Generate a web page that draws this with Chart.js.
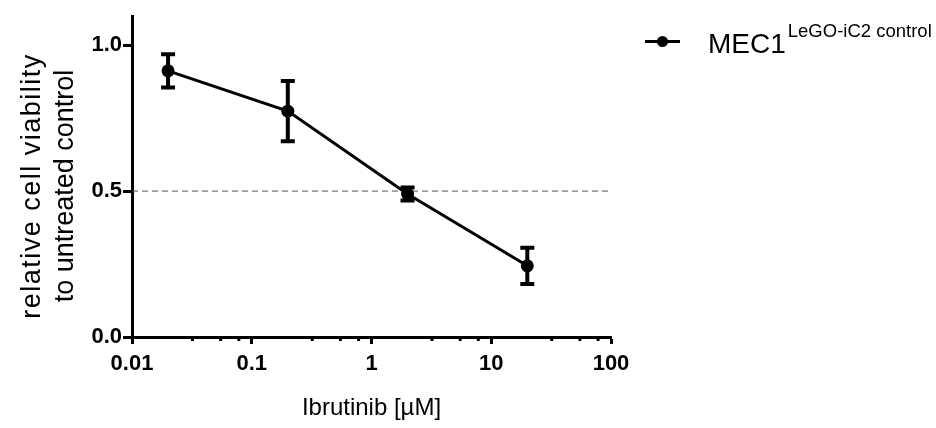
<!DOCTYPE html>
<html>
<head>
<meta charset="utf-8">
<script src="https://cdn.jsdelivr.net/npm/chart.js@4.4.1/dist/chart.umd.min.js"></script>
<style>
  html, body { margin: 0; padding: 0; background: #ffffff; }
  canvas { display: block; }
</style>
</head>
<body>
<canvas id="c" width="936" height="428"></canvas>
<script>
// ---- data ----
const doses = [0.02, 0.2, 2, 20];               // Ibrutinib [µM]
const viability = [0.912, 0.774, 0.490, 0.244]; // relative viability
const sem = [0.057, 0.103, 0.022, 0.062];       // error bar half-length
const referenceLevel = [0.5];                    // dashed guide line
const xTickValues = [0.01, 0.1, 1, 10, 100];
const xTickLabels = ['0.01', '0.1', '1', '10', '100'];
const xMinorMultipliers = [3.2, 5.5, 7.8];
const yTickValues = [0, 0.5, 1.0];
const yTickLabels = ['0.0', '0.5', '1.0'];
const seriesName = 'MEC1';
const seriesSup = 'LeGO-iC2 control';
const yTitleLines = ['relative cell viability', 'to untreated control'];
const xTitle = 'Ibrutinib [µM]';

const FONT = "'Liberation Sans', Arial, Helvetica, sans-serif";

const mainPoints = doses.map((d, i) => ({ x: d, y: viability[i] }));
const refPoints = [
  { x: xTickValues[0], y: referenceLevel[0] },
  { x: xTickValues[xTickValues.length - 1], y: referenceLevel[0] }
];

const errorBarPlugin = {
  id: 'errorBars',
  afterDatasetsDraw(chart) {
    const meta = chart.getDatasetMeta(0);
    const ys = chart.scales.y;
    const ctx = chart.ctx;
    ctx.save();
    ctx.strokeStyle = '#000';
    ctx.lineWidth = 4;
    ctx.lineCap = 'butt';
    meta.data.forEach((pt, i) => {
      const x = pt.x;
      const yTop = ys.getPixelForValue(viability[i] + sem[i]);
      const yBot = ys.getPixelForValue(viability[i] - sem[i]);
      ctx.beginPath();
      ctx.moveTo(x, yTop); ctx.lineTo(x, yBot);
      ctx.moveTo(x - 7, yTop); ctx.lineTo(x + 7, yTop);
      ctx.moveTo(x - 7, yBot); ctx.lineTo(x + 7, yBot);
      ctx.stroke();
    });
    ctx.restore();
  }
};

const decorPlugin = {
  id: 'decor',
  afterDraw(chart) {
    const ctx = chart.ctx;
    const xs = chart.scales.x;
    const area = chart.chartArea;
    ctx.save();
    // minor ticks on x axis
    ctx.strokeStyle = '#000';
    ctx.lineWidth = 3;
    for (let k = 0; k < xTickValues.length - 1; k++) {
      xMinorMultipliers.forEach(m => {
        const px = xs.getPixelForValue(xTickValues[k] * m);
        ctx.beginPath();
        ctx.moveTo(px, area.bottom);
        ctx.lineTo(px, area.bottom + 4);
        ctx.stroke();
      });
    }
    // y-axis title
    ctx.fillStyle = '#000';
    ctx.font = '27px ' + FONT;
    ctx.textAlign = 'center';
    ctx.textBaseline = 'alphabetic';
    ctx.translate(0, 186);
    ctx.rotate(-Math.PI / 2);
    ctx.letterSpacing = '1.5px';
    ctx.fillText(yTitleLines[0], 0, 39.5);
    ctx.letterSpacing = '0px';
    ctx.fillText(yTitleLines[1], 0, 72.5);
    ctx.restore();

    // legend
    ctx.save();
    ctx.strokeStyle = '#000';
    ctx.fillStyle = '#000';
    ctx.lineWidth = 3;
    ctx.beginPath();
    ctx.moveTo(645, 41.5); ctx.lineTo(680, 41.5);
    ctx.stroke();
    ctx.beginPath();
    ctx.arc(662.5, 41.5, 5.5, 0, Math.PI * 2);
    ctx.fill();
    ctx.textAlign = 'left';
    ctx.textBaseline = 'alphabetic';
    ctx.font = '28px ' + FONT;
    ctx.fillText(seriesName, 708, 52.5);
    const w = ctx.measureText(seriesName).width;
    ctx.font = '18.5px ' + FONT;
    ctx.fillText(seriesSup, 708 + w + 2, 36.5);
    ctx.restore();
  }
};

new Chart(document.getElementById('c'), {
  type: 'line',
  data: {
    datasets: [
      {
        data: mainPoints,
        borderColor: '#000',
        backgroundColor: '#000',
        borderWidth: 3,
        pointRadius: 6.5,
        pointBackgroundColor: '#000',
        pointBorderWidth: 0,
        tension: 0,
        order: 1
      },
      {
        data: refPoints,
        borderColor: '#555',
        borderWidth: 1,
        borderDash: [6, 4],
        pointRadius: 0,
        order: 2
      }
    ]
  },
  options: {
    responsive: false,
    animation: false,
    events: [],
    layout: { padding: { top: 16, right: 325, left: 0, bottom: 0 } },
    plugins: { legend: { display: false }, tooltip: { enabled: false } },
    scales: {
      x: {
        type: 'logarithmic',
        min: xTickValues[0],
        max: xTickValues[xTickValues.length - 1],
        afterBuildTicks(scale) { scale.ticks = xTickValues.map(v => ({ value: v, major: true })); },
        afterFit(scale) { scale.height = 91; },
        grid: { drawOnChartArea: false, tickLength: 7, tickWidth: 3, tickColor: '#000' },
        border: { display: true, color: '#000', width: 3 },
        ticks: {
          autoSkip: false,
          maxRotation: 0,
          padding: 7,
          color: '#000',
          font: { family: FONT, size: 22, weight: 'bold' },
          callback(value, index) { return xTickLabels[index]; }
        },
        title: {
          display: true,
          text: xTitle,
          color: '#000',
          font: { family: FONT, size: 24 },
          padding: { top: 0, bottom: 5 }
        }
      },
      y: {
        type: 'linear',
        min: 0,
        max: 1.1,
        afterBuildTicks(scale) { scale.ticks = yTickValues.map(v => ({ value: v })); },
        afterFit(scale) { scale.width = 132; },
        grid: { drawOnChartArea: false, tickLength: 9, tickWidth: 3, tickColor: '#000' },
        border: { display: true, color: '#000', width: 3 },
        ticks: {
          padding: 1,
          color: '#000',
          font: { family: FONT, size: 22, weight: 'bold' },
          callback(value, index) { return yTickLabels[index]; }
        }
      }
    }
  },
  plugins: [errorBarPlugin, decorPlugin]
});
</script>
</body>
</html>
